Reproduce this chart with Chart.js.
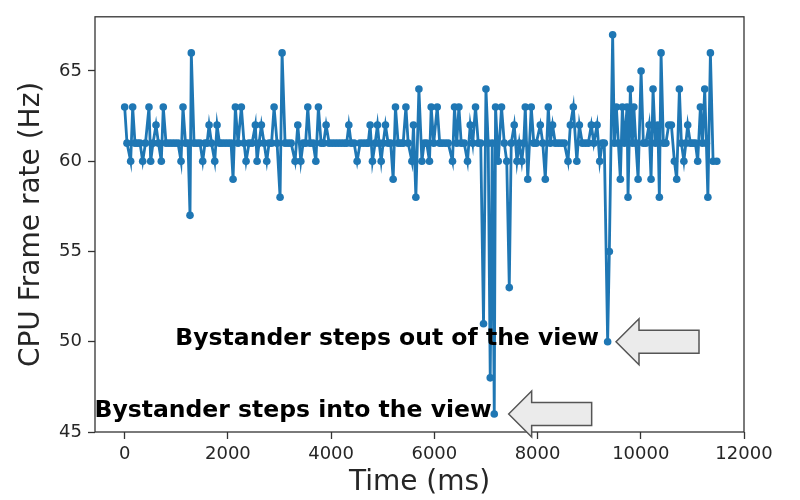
<!DOCTYPE html>
<html>
<head>
<meta charset="utf-8">
<script src="https://cdn.jsdelivr.net/npm/chart.js@4/dist/chart.umd.min.js"></script>
<style>
  html, body { margin: 0; padding: 0; background: #ffffff; }
  canvas { display: block; }
</style>
</head>
<body>
<canvas id="fps" width="800" height="500"></canvas>
<script>
// Sample times (ms) and the measured CPU frame rate (Hz) at each sample
const timeMs = [
  0, 45, 116, 155, 200, 248, 297, 349, 403, 471,
  504, 549, 607, 655, 710, 748, 801, 859, 917, 975,
  1034, 1092, 1130, 1179, 1227, 1266, 1291, 1344, 1402, 1460,
  1512, 1557, 1596, 1635, 1683, 1745, 1790, 1838, 1887, 1945,
  2003, 2061, 2100, 2145, 2197, 2261, 2313, 2352, 2410, 2468,
  2532, 2565, 2604, 2649, 2701, 2753, 2798, 2846, 2895, 2953,
  3011, 3050, 3108, 3166, 3225, 3302, 3354, 3413, 3457, 3506,
  3548, 3593, 3651, 3704, 3754, 3806, 3855, 3903, 3962, 4020,
  4078, 4136, 4194, 4253, 4301, 4343, 4388, 4446, 4504, 4562,
  4621, 4679, 4718, 4756, 4801, 4853, 4898, 4931, 4970, 5008,
  5053, 5105, 5154, 5202, 5247, 5299, 5348, 5396, 5449, 5493,
  5565, 5596, 5642, 5701, 5759, 5803, 5852, 5906, 5939, 5988,
  6056, 6104, 6153, 6211, 6269, 6352, 6391, 6434, 6476, 6521,
  6579, 6643, 6695, 6744, 6798, 6851, 6899, 6953, 7000, 7044,
  7083, 7122, 7161, 7186, 7238, 7302, 7355, 7403, 7452, 7490,
  7548, 7601, 7645, 7694, 7733, 7762, 7810, 7878, 7927, 7975,
  8053, 8101, 8150, 8208, 8247, 8291, 8344, 8402, 8460, 8518,
  8590, 8635, 8693, 8761, 8810, 8867, 8925, 8983, 9042, 9090,
  9153, 9205, 9254, 9293, 9358, 9391, 9455, 9488, 9527, 9566,
  9604, 9643, 9682, 9734, 9753, 9798, 9837, 9866, 9905, 9948,
  10006, 10050, 10098, 10160, 10199, 10238, 10283, 10331, 10360, 10393,
  10438, 10486, 10541, 10593, 10651, 10696, 10748, 10787, 10835, 10874,
  10909, 10961, 11010, 11058, 11103, 11155, 11194, 11239, 11271, 11300,
  11349, 11401, 11473
];

const frameRateHz = [
  63, 61, 60, 63, 61, 61, 61, 60, 61, 63,
  60, 61, 62, 61, 60, 63, 61, 61, 61, 61,
  61, 60, 63, 61, 61, 57, 66, 61, 61, 61,
  60, 61, 61, 62, 61, 60, 62, 61, 61, 61,
  61, 61, 59, 63, 61, 63, 61, 60, 61, 61,
  62, 60, 61, 62, 61, 60, 61, 61, 63, 61,
  58, 66, 61, 61, 61, 60, 62, 60, 61, 61,
  63, 61, 61, 60, 63, 61, 61, 62, 61, 61,
  61, 61, 61, 61, 61, 62, 61, 61, 60, 61,
  61, 61, 61, 62, 60, 61, 62, 61, 60, 61,
  62, 61, 61, 59, 63, 61, 61, 61, 63, 61,
  60, 62, 58, 64, 60, 61, 61, 60, 63, 61,
  63, 61, 61, 61, 61, 60, 63, 61, 63, 61,
  61, 60, 62, 61, 63, 61, 61, 51, 64, 61,
  48, 61, 46, 63, 60, 63, 61, 60, 53, 61,
  62, 60, 61, 60, 61, 63, 59, 63, 61, 61,
  62, 61, 59, 63, 61, 62, 61, 61, 61, 61,
  60, 62, 63, 60, 62, 61, 61, 61, 62, 61,
  62, 60, 61, 61, 50, 55, 67, 61, 63, 61,
  59, 63, 61, 63, 58, 64, 61, 63, 61, 59,
  65, 61, 61, 62, 59, 64, 61, 62, 58, 66,
  61, 61, 62, 62, 60, 59, 64, 61, 60, 61,
  62, 61, 61, 61, 60, 63, 61, 64, 61, 58,
  66, 60, 60
];

// Axis tick values
const xTickValues = [0, 2000, 4000, 6000, 8000, 10000, 12000];
const yTickValues = [45, 50, 55, 60, 65];

// Callouts: text plus the (time, rate) point the arrow tip touches
const calloutTexts = ['Bystander steps into the view', 'Bystander steps out of the view'];
const calloutTimeMs = [7440, 9520];
const calloutRateHz = [46, 50];

const LINE_BLUE = '#1f77b4';
const FRAME_GREY = '#333333';
const TEXT_GREY = '#262626';
const FONT = '"DejaVu Sans", "Liberation Sans", sans-serif';

// Full box around the plot area plus the arrow callouts
const frameAndCallouts = {
  id: 'frameAndCallouts',
  afterDatasetsDraw(chart) {
    const { ctx, chartArea: a, scales } = chart;
    ctx.save();
    ctx.strokeStyle = FRAME_GREY;
    ctx.lineWidth = 1.3;
    ctx.strokeRect(a.left, a.top, a.right - a.left, a.bottom - a.top);

    calloutTexts.forEach((text, i) => {
      const tipX = scales.x.getPixelForValue(calloutTimeMs[i]);
      const tipY = scales.y.getPixelForValue(calloutRateHz[i]);
      const headLen = 23, headHalf = 23, shaftHalf = 11.5, total = 83;
      ctx.beginPath();
      ctx.moveTo(tipX, tipY);
      ctx.lineTo(tipX + headLen, tipY - headHalf);
      ctx.lineTo(tipX + headLen, tipY - shaftHalf);
      ctx.lineTo(tipX + total, tipY - shaftHalf);
      ctx.lineTo(tipX + total, tipY + shaftHalf);
      ctx.lineTo(tipX + headLen, tipY + shaftHalf);
      ctx.lineTo(tipX + headLen, tipY + headHalf);
      ctx.closePath();
      ctx.fillStyle = '#ebebeb';
      ctx.fill();
      ctx.strokeStyle = '#555555';
      ctx.lineWidth = 1.5;
      ctx.lineJoin = 'miter';
      ctx.stroke();

      ctx.font = 'bold 23.5px ' + FONT;
      ctx.fillStyle = '#000000';
      ctx.textAlign = 'right';
      ctx.textBaseline = 'middle';
      ctx.fillText(text, tipX - 17, tipY - 3);
    });
    ctx.restore();
  }
};

const points = timeMs.map((t, i) => ({ x: t, y: frameRateHz[i] }));

const tickGrid = {
  display: true,
  drawOnChartArea: false,
  drawTicks: true,
  tickLength: 7,
  tickWidth: 1.3,
  tickColor: FRAME_GREY
};

new Chart(document.getElementById('fps'), {
  type: 'line',
  data: {
    datasets: [{
      data: points,
      borderColor: LINE_BLUE,
      borderWidth: 2.8,
      backgroundColor: LINE_BLUE,
      pointRadius: 3.8,
      pointBorderWidth: 0,
      pointBackgroundColor: LINE_BLUE,
      tension: 0,
      fill: false
    }]
  },
  options: {
    responsive: false,
    animation: false,
    devicePixelRatio: 1,
    events: [],
    layout: { padding: { top: 9, right: 56, left: 0, bottom: 0 } },
    plugins: {
      legend: { display: false },
      tooltip: { enabled: false }
    },
    scales: {
      x: {
        type: 'linear',
        min: -575,
        max: 12000,
        afterBuildTicks: s => { s.ticks = xTickValues.map(v => ({ value: v })); },
        afterFit: s => { s.height = 68; },
        grid: tickGrid,
        border: { display: false },
        ticks: {
          color: TEXT_GREY,
          font: { family: FONT, size: 18 },
          padding: 5,
          maxRotation: 0,
          autoSkip: false,
          callback: v => String(v)
        },
        title: {
          display: true,
          text: 'Time (ms)',
          color: TEXT_GREY,
          font: { family: FONT, size: 28 },
          padding: { top: 0, bottom: 0 }
        }
      },
      y: {
        type: 'linear',
        min: 45,
        max: 68,
        afterBuildTicks: s => { s.ticks = yTickValues.map(v => ({ value: v })); },
        afterFit: s => { s.width = 95; },
        grid: tickGrid,
        border: { display: false },
        ticks: {
          color: TEXT_GREY,
          font: { family: FONT, size: 18 },
          padding: 6,
          autoSkip: false,
          callback: v => String(v)
        },
        title: {
          display: true,
          text: 'CPU Frame rate (Hz)',
          color: TEXT_GREY,
          font: { family: FONT, size: 28 },
          padding: { top: 15, bottom: 0 }
        }
      }
    }
  },
  plugins: [frameAndCallouts]
});
</script>
</body>
</html>
